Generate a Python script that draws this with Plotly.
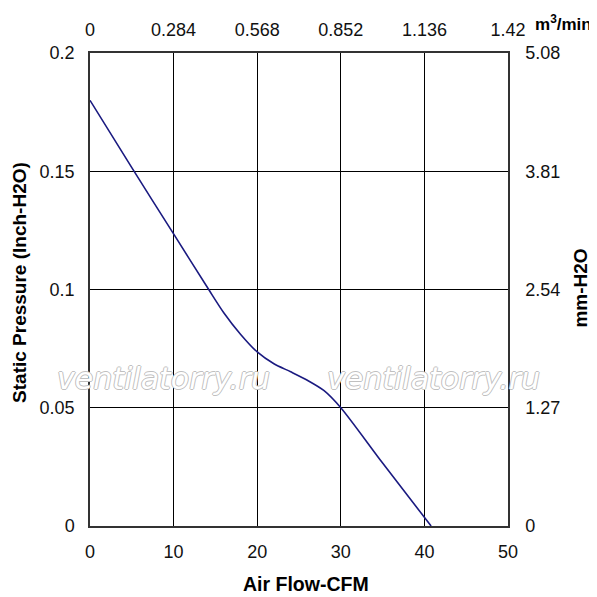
import plotly.graph_objects as go

# Data
cfm = [0, 5, 10, 14.2, 16, 18, 20, 22, 24, 26, 28, 30, 35, 40.8]
pressure_inch = [0.18, 0.1515, 0.1235, 0.1, 0.0902, 0.0811, 0.0736, 0.0686, 0.0652, 0.0616, 0.0572, 0.05, 0.0266, 0]

x_ticks = [0, 10, 20, 30, 40, 50]
x_ticktext = ["0", "10", "20", "30", "40", "50"]
y_ticks = [0, 0.05, 0.1, 0.15, 0.2]
y_ticktext = ["0", "0.05", "0.1", "0.15", "0.2"]
x2_ticks = [0, 0.284, 0.568, 0.852, 1.136, 1.42]
x2_ticktext = ["0", "0.284", "0.568", "0.852", "1.136", "1.42"]
y2_ticks = [0, 1.27, 2.54, 3.81, 5.08]
y2_ticktext = ["0", "1.27", "2.54", "3.81", "5.08"]

FONT = "Liberation Sans, Arial, sans-serif"
tickfont = dict(family=FONT, size=18, color="#111111")

fig = go.Figure()
fig.add_trace(go.Scatter(
    x=cfm, y=pressure_inch, mode="lines",
    line=dict(color="#1a1a80", width=1.6, shape="spline", smoothing=0.8),
    hoverinfo="skip", showlegend=False,
))
fig.add_trace(go.Scatter(
    x=[None], y=[None], xaxis="x2", yaxis="y2", mode="lines",
    showlegend=False, hoverinfo="skip",
))

axis_common = dict(
    showline=True, linecolor="#333333", linewidth=1.5,
    zeroline=False, ticks="", tickfont=tickfont,
)

fig.update_layout(
    width=589, height=589, autosize=False,
    margin=dict(l=82, r=89, t=40, b=71),
    paper_bgcolor="white", plot_bgcolor="white",
    xaxis=dict(range=[0, 50], tickvals=x_ticks, ticktext=x_ticktext,
               showgrid=True, gridcolor="black", gridwidth=1,
               mirror=True, ticklabelstandoff=9, **axis_common),
    yaxis=dict(range=[0, 0.2], tickvals=y_ticks, ticktext=y_ticktext,
               showgrid=True, gridcolor="black", gridwidth=1,
               mirror=True, ticklabelstandoff=10, **axis_common),
    xaxis2=dict(range=[0, 1.42], tickvals=x2_ticks, ticktext=x2_ticktext,
                overlaying="x", side="top", anchor="y2", showgrid=False,
                ticklabelstandoff=8, **axis_common),
    yaxis2=dict(range=[0, 5.08], tickvals=y2_ticks, ticktext=y2_ticktext,
                overlaying="y", side="right", anchor="x2", showgrid=False,
                ticklabelstandoff=12, **axis_common),
    showlegend=False,
)

titlefont = dict(family=FONT, size=19, color="black")
ann = [
    dict(text="<b>Air Flow-CFM</b>", x=0.517, y=-0.1234, xref="paper", yref="paper",
         showarrow=False, font=dict(family=FONT, size=19.5, color="black"),
         xanchor="center", yanchor="middle"),
    dict(text="<b>Static Pressure (Inch-H2O)</b>", x=-0.1675, y=0.516, xref="paper", yref="paper",
         showarrow=False, font=titlefont, textangle=-90, xanchor="center", yanchor="middle"),
    dict(text="<b>mm-H2O</b>", x=1.1746, y=0.504, xref="paper", yref="paper",
         showarrow=False, font=titlefont, textangle=-90, xanchor="center", yanchor="middle"),
    dict(text="<b>m<sup>3</sup>/min</b>", x=1.1316, y=1.0628, xref="paper", yref="paper",
         showarrow=False, font=dict(family=FONT, size=17, color="black"),
         xanchor="center", yanchor="middle"),
]
wm_font = dict(family="DejaVu Sans, sans-serif", size=30, color="white", style="italic",
               shadow="1px 0 0 #c0c0c0, -1px 0 0 #c0c0c0, 0 1px 0 #c0c0c0, 0 -1px 0 #c0c0c0")
for wx in (0.177, 0.8206):
    ann.append(dict(text="ventilatorry.ru", x=wx, y=0.3117, xref="paper", yref="paper",
                    showarrow=False, font=wm_font, xanchor="center", yanchor="middle"))
fig.update_layout(annotations=ann)

fig.write_html("out.html")
